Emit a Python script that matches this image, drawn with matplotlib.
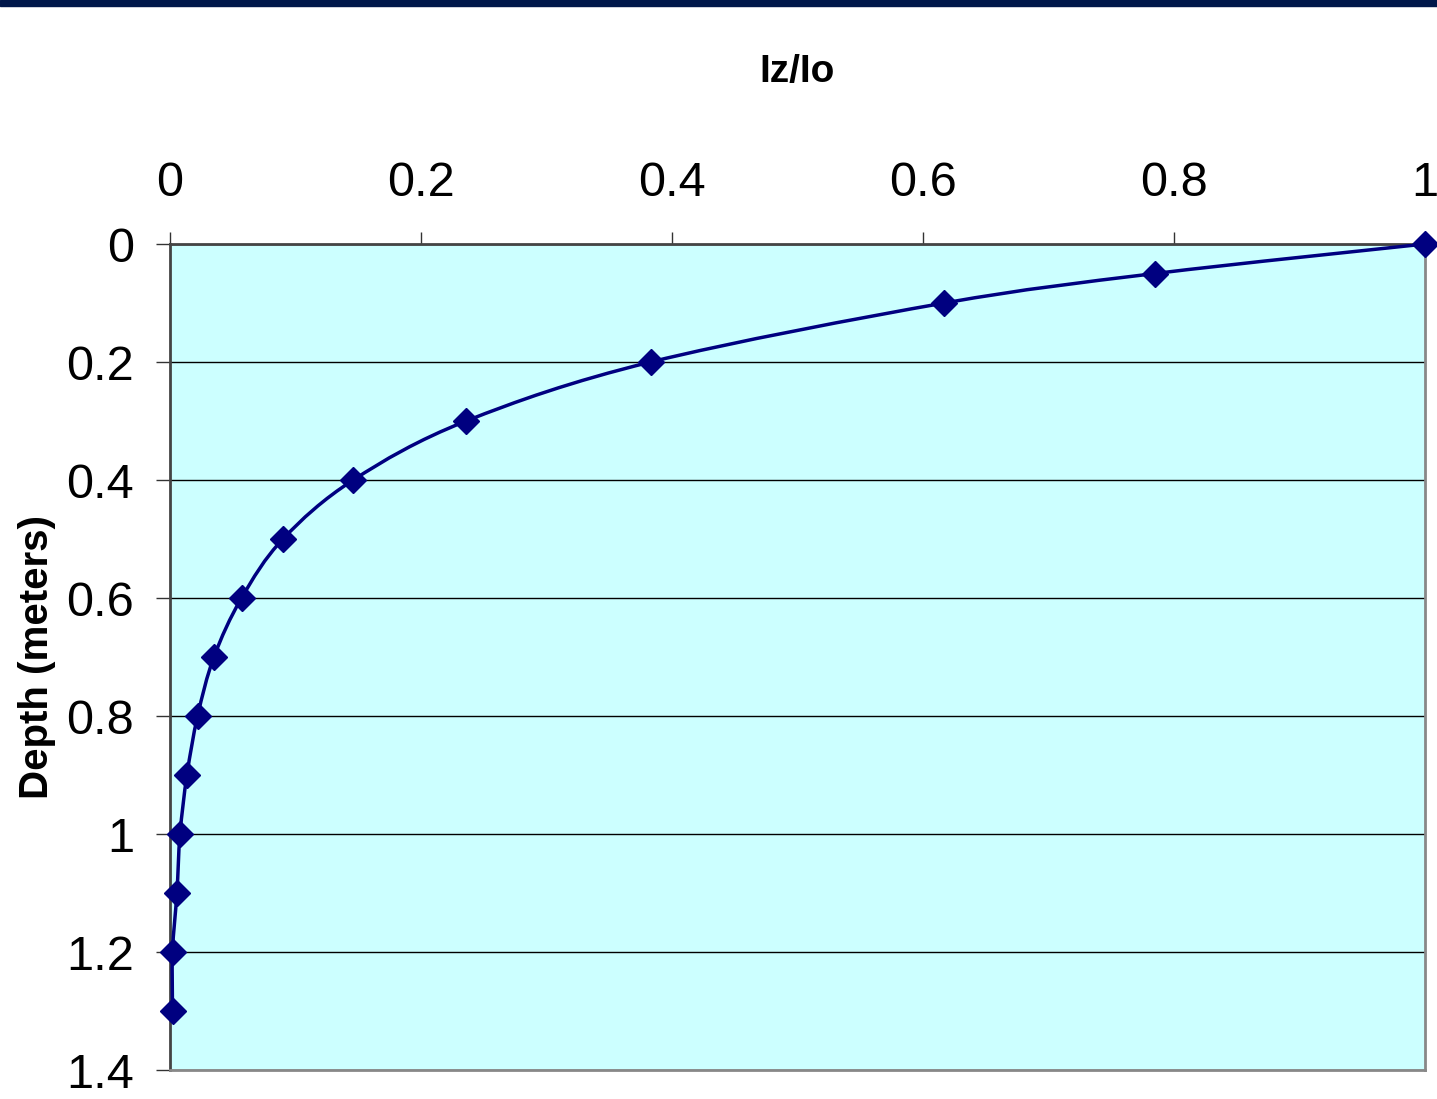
import numpy as np
import matplotlib.pyplot as plt
from matplotlib.path import Path
from matplotlib.patches import PathPatch

# Relative intensity vs depth
depth = [0.0, 0.05, 0.1, 0.2, 0.3, 0.4, 0.5, 0.6, 0.7, 0.8, 0.9, 1.0, 1.1, 1.2, 1.3]
iz_io = [1.0, 0.785, 0.617, 0.383, 0.236, 0.146, 0.090, 0.057, 0.035, 0.022,
         0.0135, 0.008, 0.0055, 0.002, 0.002]

x_ticks = [0, 0.2, 0.4, 0.6, 0.8, 1]
y_ticks = [0, 0.2, 0.4, 0.6, 0.8, 1, 1.2, 1.4]

navy = '#000080'
plt.rcParams['font.family'] = ['Liberation Sans', 'DejaVu Sans']

fig = plt.figure(figsize=(14.37, 10.99), dpi=100)
# dark band along the top edge
fig.patches.append(plt.Rectangle((0, 1 - 6 / 1099), 1, 6 / 1099, transform=fig.transFigure,
                                 color='#00174A', zorder=0))

ax = fig.add_axes([170 / 1437, 1 - 1070 / 1099, 1255 / 1437, 826 / 1099])
ax.set_facecolor('#CCFFFF')

# smoothed line (Catmull-Rom style bezier through the points)
pts = np.column_stack([iz_io, depth])
verts = [pts[0]]
codes = [Path.MOVETO]
n = len(pts)
for i in range(n - 1):
    p0 = pts[max(i - 1, 0)]
    p1 = pts[i]
    p2 = pts[i + 1]
    p3 = pts[min(i + 2, n - 1)]
    c1 = p1 + (p2 - p0) / 6
    c2 = p2 - (p3 - p1) / 6
    verts += [c1, c2, p2]
    codes += [Path.CURVE4] * 3
ax.add_patch(PathPatch(Path(verts, codes), fill=False, edgecolor=navy, lw=2.5, zorder=3))
ax.plot(iz_io, depth, linestyle='none', marker='D', markersize=13, color=navy,
        clip_on=False, zorder=4)

ax.set_xlim(0, 1)
ax.set_ylim(1.4, 0)
ax.xaxis.tick_top()
ax.xaxis.set_label_position('top')
ax.set_xticks(x_ticks)
ax.set_xticklabels(['0', '0.2', '0.4', '0.6', '0.8', '1'])
ax.set_yticks(y_ticks)
ax.set_yticklabels(['0', '0.2', '0.4', '0.6', '0.8', '1', '1.2', '1.4'])
ax.tick_params(axis='x', direction='out', length=9, width=1, color='#333333',
               labelsize=35, pad=18)
ax.tick_params(axis='y', direction='out', length=10, width=1, color='#333333',
               labelsize=35, pad=16)
ax.yaxis.grid(True, color='black', lw=1)
ax.set_axisbelow(True)

for side in ['top', 'left']:
    ax.spines[side].set_color('#444444')
    ax.spines[side].set_linewidth(2)
for side in ['right', 'bottom']:
    ax.spines[side].set_color('#888888')
    ax.spines[side].set_linewidth(2)

ax.set_xlabel('Iz/Io', fontsize=28, fontweight='bold', labelpad=57)
ax.set_ylabel('Depth (meters)', fontsize=29, fontweight='bold', labelpad=7)

fig.savefig('out.png', dpi=100)
